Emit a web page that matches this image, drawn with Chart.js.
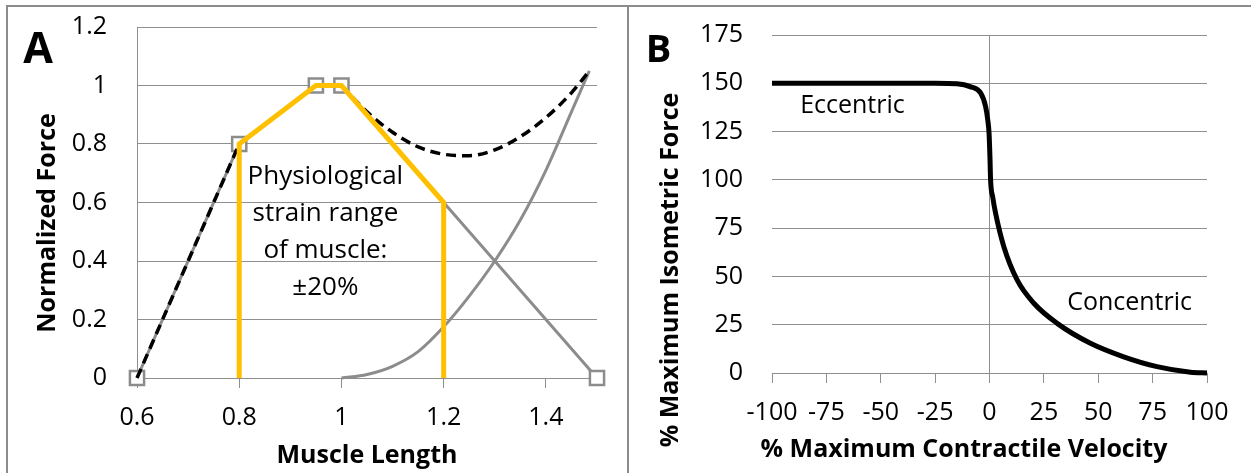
<!DOCTYPE html>
<html>
<head>
<meta charset="utf-8">
<script src="https://cdn.jsdelivr.net/npm/chart.js@4.4.1/dist/chart.umd.min.js"></script>
<style>
  html, body { margin: 0; padding: 0; background: #fff; }
  #wrap { position: relative; width: 1251px; height: 473px; overflow: hidden; background: #fff; }
  canvas { position: absolute; top: 0; }
  #forceLength { left: 0; }
  #forceVelocity { left: 628px; }
  .rule { position: absolute; background: #8c8c8c; }
</style>
</head>
<body>
<div id="wrap">
  <canvas id="forceLength" width="627" height="473"></canvas>
  <canvas id="forceVelocity" width="623" height="473"></canvas>
  <div class="rule" style="left:6px;top:5px;width:1245px;height:2px"></div>
  <div class="rule" style="left:6px;top:5px;width:2px;height:468px"></div>
  <div class="rule" style="left:627px;top:5px;width:2px;height:468px"></div>
</div>
<script>
// ---- Panel A: force-length relationship (normalized) ----
const lengthTicks = [0.6, 0.8, 1, 1.2, 1.4];
const forceTicksA = [0, 0.2, 0.4, 0.6, 0.8, 1, 1.2];

// active (contractile) force
const activeLength = [0.6, 0.8, 0.95, 1.0, 1.5];
const activeForce  = [0, 0.8, 1.0, 1.0, 0];

// passive (elastic) force
const passiveLength = [1.0, 1.05, 1.1, 1.15, 1.2, 1.25, 1.3, 1.35, 1.4, 1.45, 1.485];
const passiveForce  = [0, 0.012, 0.04, 0.09, 0.175, 0.28, 0.40, 0.54, 0.71, 0.91, 1.05];

// total force: straight ascending limb, then the curved sum beyond optimal length
const totalLengthAscending = [0.6, 0.8, 0.95, 1.0];
const totalForceAscending  = [0, 0.8, 1.0, 1.0];
const totalLength = [1.0, 1.05, 1.1, 1.15, 1.2, 1.25, 1.3, 1.35, 1.4, 1.45, 1.485];
const totalForce  = [1.0, 0.91, 0.84, 0.79, 0.765, 0.76, 0.78, 0.825, 0.89, 0.975, 1.05];

// physiological working range (0.8 - 1.2, i.e. ±20%)
const rangeLength = [0.8, 0.8, 0.95, 1.0, 1.2, 1.2];
const rangeForce  = [0, 0.8, 1.0, 1.0, 0.6, 0];

const rangeLabelLines = ['Physiological', 'strain range', 'of muscle:', '\u00B120%'];

// ---- Panel B: force-velocity relationship ----
const velocityTicks = [-100, -75, -50, -25, 0, 25, 50, 75, 100];
const forceTicksB = [0, 25, 50, 75, 100, 125, 150, 175];
const velocity = [-100, -75, -50, -25, -15, -9, -4, -1.8, -0.8, -0.2, 0.2, 0.5, 1.5, 2.8, 6.6, 12.7, 20.4, 31.1, 46.4, 61.7, 77, 92.4, 100];
const isometricForce = [150, 150, 150, 150, 149.7, 148.3, 144.8, 138, 131, 124, 112, 100, 91, 82.7, 65.4, 48.2, 36.1, 25.7, 15.4, 8.4, 3.3, 0.4, 0];

// ---- shared styling ----
const FAMILY = "'Open Sans', sans-serif";
const GRID = '#8f8f8f';
const CURVE_GRAY = '#8c8c8c';
const GOLD = '#FFC000';
const TICK_SIZE = 25;

const pts = (xs, ys) => xs.map((x, i) => ({ x, y: ys[i] }));
const fmt = v => String(Math.round(v * 100) / 100);

Chart.defaults.font.family = FAMILY;
Chart.defaults.color = '#000';

// draws axis titles, panel letters and annotations as canvas text
const panelText = {
  id: 'panelText',
  afterDraw(chart, args, opts) {
    const ctx = chart.ctx;
    const xs = chart.scales.x, ys = chart.scales.y;
    for (const t of opts.items) {
      let x = t.x, y = t.y;
      if (t.data) { x = xs.getPixelForValue(t.data[0]); y = ys.getPixelForValue(t.data[1]); }
      const lines = Array.isArray(t.text) ? t.text : [t.text];
      ctx.save();
      ctx.font = t.font;
      ctx.fillStyle = '#000';
      ctx.textAlign = 'center';
      ctx.textBaseline = 'alphabetic';
      ctx.translate(x, y);
      if (t.rotate) ctx.rotate(t.rotate);
      lines.forEach((line, i) => ctx.fillText(line, 0, i * (t.lineStep || 0)));
      ctx.restore();
    }
  }
};

function tickFont(size) { return { family: FAMILY, size }; }

// fixes the value axis width and stops its labels from pushing the plot area down
function fixedWidth(w) {
  return s => { s.width = w; s.paddingTop = 0; s.paddingBottom = 0; };
}

function drawCharts() {
  // Panel A
  new Chart(document.getElementById('forceLength'), {
    type: 'scatter',
    data: {
      datasets: [
        { label: 'Physiological range', data: pts(rangeLength, rangeForce), showLine: true,
          borderColor: GOLD, borderWidth: 5, borderJoinStyle: 'miter', pointRadius: 0, order: 1, clip: false },
        { label: 'Total force', data: pts(totalLengthAscending, totalForceAscending), showLine: true,
          borderColor: '#000', borderWidth: 3.5, borderDash: [10, 6], pointRadius: 0, order: 2, clip: false },
        { label: 'Total force', data: pts(totalLength, totalForce), showLine: true,
          borderColor: '#000', borderWidth: 3.5, borderDash: [10, 6], cubicInterpolationMode: 'monotone',
          pointRadius: 0, order: 3, clip: false },
        { label: 'Passive force', data: pts(passiveLength, passiveForce), showLine: true,
          borderColor: CURVE_GRAY, borderWidth: 3, cubicInterpolationMode: 'monotone',
          pointRadius: 0, order: 4, clip: false },
        { label: 'Active force', data: pts(activeLength, activeForce), showLine: true,
          borderColor: CURVE_GRAY, borderWidth: 3, pointStyle: 'rect', pointRadius: 10,
          pointBorderWidth: 2.5, pointBorderColor: CURVE_GRAY, pointBackgroundColor: '#fff',
          order: 5, clip: false }
      ]
    },
    options: {
      responsive: false,
      animation: false,
      events: [],
      layout: { padding: { top: 27, right: 30, left: 0, bottom: 0 } },
      plugins: {
        legend: { display: false },
        tooltip: { enabled: false },
        panelText: {
          items: [
            { text: 'A', font: `bold 43px ${FAMILY}`, x: 38, y: 63 },
            { text: 'Muscle Length', font: `bold 25px ${FAMILY}`, x: 367, y: 463 },
            { text: 'Normalized Force', font: `bold 25px ${FAMILY}`, x: 55, y: 223, rotate: -Math.PI / 2 },
            { text: rangeLabelLines, font: `26px ${FAMILY}`, data: [0.9686, 0.663], lineStep: 37 }
          ]
        }
      },
      scales: {
        x: {
          type: 'linear', min: 0.6, max: 1.5,
          afterBuildTicks: s => { s.ticks = lengthTicks.map(v => ({ value: v })); },
          afterFit: s => { s.height = 95; },
          grid: { drawOnChartArea: false, drawTicks: true, tickLength: 10, color: GRID, lineWidth: 1 },
          border: { display: true, color: GRID, width: 1 },
          ticks: { padding: 15, font: tickFont(TICK_SIZE), color: '#000', maxRotation: 0, autoSkip: false, callback: fmt }
        },
        y: {
          type: 'linear', min: 0, max: 1.2,
          afterBuildTicks: s => { s.ticks = forceTicksA.map(v => ({ value: v })); },
          afterFit: fixedWidth(137),
          grid: { drawTicks: false, color: GRID, lineWidth: 1 },
          border: { display: true, color: GRID, width: 1 },
          ticks: { padding: 30, font: tickFont(TICK_SIZE), color: '#000', autoSkip: false, callback: fmt }
        }
      }
    },
    plugins: [panelText]
  });

  // Panel B
  new Chart(document.getElementById('forceVelocity'), {
    type: 'scatter',
    data: {
      datasets: [
        { label: 'Force-velocity', data: pts(velocity, isometricForce), showLine: true,
          borderColor: '#000', borderWidth: 5, cubicInterpolationMode: 'monotone',
          pointRadius: 0, clip: false }
      ]
    },
    options: {
      responsive: false,
      animation: false,
      events: [],
      layout: { padding: { top: 35, right: 44, left: 0, bottom: 0 } },
      plugins: {
        legend: { display: false },
        tooltip: { enabled: false },
        panelText: {
          items: [
            { text: 'B', font: `bold 38px ${FAMILY}`, x: 30.5, y: 62 },
            { text: '% Maximum Contractile Velocity', font: `bold 25px ${FAMILY}`, x: 336, y: 457 },
            { text: '% Maximum Isometric Force', font: `bold 25px ${FAMILY}`, x: 50, y: 270, rotate: -Math.PI / 2 },
            { text: 'Eccentric', font: `25px ${FAMILY}`, data: [-63, 134.6] },
            { text: 'Concentric', font: `25px ${FAMILY}`, data: [64.4, 32.6] }
          ]
        }
      },
      scales: {
        x: {
          type: 'linear', min: -100, max: 100,
          afterBuildTicks: s => { s.ticks = velocityTicks.map(v => ({ value: v })); },
          afterFit: s => { s.height = 100; },
          grid: {
            drawOnChartArea: true, drawTicks: true, tickLength: 10, lineWidth: 1,
            color: c => (c.tick && c.tick.value === 0 ? GRID : 'rgba(0,0,0,0)'),
            tickColor: GRID
          },
          border: { display: true, color: GRID, width: 1 },
          ticks: { padding: 15, font: tickFont(TICK_SIZE), color: '#000', maxRotation: 0, autoSkip: false, callback: fmt }
        },
        y: {
          type: 'linear', min: 0, max: 175,
          afterBuildTicks: s => { s.ticks = forceTicksB.map(v => ({ value: v })); },
          afterFit: fixedWidth(144),
          grid: { drawTicks: false, color: GRID, lineWidth: 1 },
          border: { display: false },
          ticks: { padding: 29, font: tickFont(TICK_SIZE), color: '#000', autoSkip: false, callback: fmt }
        }
      }
    },
    plugins: [panelText]
  });
}

const fontLoads = [
  document.fonts.load(`24px ${FAMILY}`),
  document.fonts.load(`bold 24px ${FAMILY}`)
];
Promise.allSettled(fontLoads).then(drawCharts);
</script>
</body>
</html>
